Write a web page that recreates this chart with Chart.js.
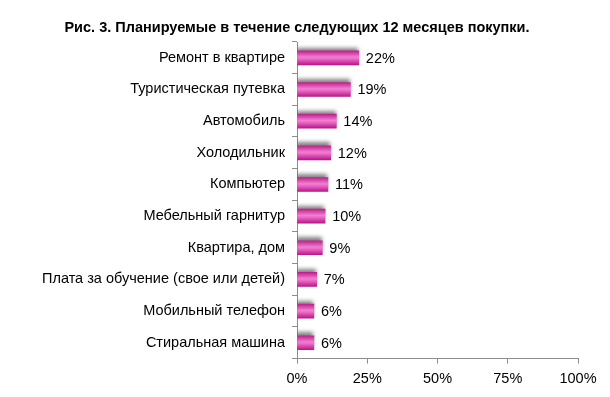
<!DOCTYPE html>
<html>
<head>
<meta charset="utf-8">
<script src="https://cdn.jsdelivr.net/npm/chart.js@4"></script>
<style>
    html, body { margin: 0; padding: 0; background: #fff; }
    #wrap { position: relative; width: 610px; height: 397px; }
    #chartTitle {
        position: absolute; left: 0; top: 19px; width: 594px;
        text-align: center; white-space: nowrap;
        font: bold 14.5px/17px "Liberation Sans", Arial, sans-serif; color: #000;
    }
</style>
</head>
<body>
<div id="wrap">
    <div id="chartTitle">Рис. 3. Планируемые в течение следующих 12 месяцев покупки.</div>
    <canvas id="purchaseChart" width="610" height="397"></canvas>
</div>
<script>
const categories = [
    'Ремонт в квартире',
    'Туристическая путевка',
    'Автомобиль',
    'Холодильник',
    'Компьютер',
    'Мебельный гарнитур',
    'Квартира, дом',
    'Плата за обучение (свое или детей)',
    'Мобильный телефон',
    'Стиральная машина'
];
const shares = [22, 19, 14, 12, 11, 10, 9, 7, 6, 6];
const xTicks = [0, 25, 50, 75, 100];

const BAR_H = 14;
const FONT = '"Liberation Sans", Arial, sans-serif';

// Pink "cylinder" gradient, built per bar from the category scale
function barGradient(context) {
    const chart = context.chart;
    const yScale = chart.scales.y;
    if (!chart.chartArea || !yScale) return '#d63aa8';
    const cy = yScale.getPixelForValue(context.dataIndex);
    if (!isFinite(cy)) return '#d63aa8';
    const top = cy - BAR_H / 2;
    const g = chart.ctx.createLinearGradient(0, top, 0, top + BAR_H);
    g.addColorStop(0, '#c0208f');
    g.addColorStop(0.45, '#f27fd0');
    g.addColorStop(0.6, '#e866c4');
    g.addColorStop(1, '#b81887');
    return g;
}

// Soft grey shadow above the bars
const barShadow = {
    id: 'barShadow',
    beforeDatasetsDraw(chart) {
        const ctx = chart.ctx;
        ctx.save();
        ctx.shadowColor = 'rgba(90, 90, 90, 0.75)';
        ctx.shadowBlur = 4;
        ctx.shadowOffsetX = -1;
        ctx.shadowOffsetY = -3;
    },
    afterDatasetsDraw(chart) {
        chart.ctx.restore();
    }
};

// Percent labels at the end of each bar
const valueLabels = {
    id: 'valueLabels',
    afterDatasetsDraw(chart) {
        const ctx = chart.ctx;
        const meta = chart.getDatasetMeta(0);
        ctx.save();
        ctx.fillStyle = '#000';
        ctx.font = '14.5px ' + FONT;
        ctx.textAlign = 'left';
        ctx.textBaseline = 'middle';
        meta.data.forEach((bar, i) => {
            ctx.fillText(shares[i] + '%', bar.x + 7, bar.y + 1);
        });
        ctx.restore();
    }
};

const ctx = document.getElementById('purchaseChart').getContext('2d');
new Chart(ctx, {
    type: 'bar',
    data: {
        labels: categories,
        datasets: [{
            data: shares,
            backgroundColor: barGradient,
            borderWidth: 0,
            barThickness: BAR_H
        }]
    },
    options: {
        indexAxis: 'y',
        responsive: false,
        animation: false,
        events: [],
        layout: {
            padding: { left: 35, right: 32, top: 42, bottom: 2 }
        },
        plugins: {
            legend: { display: false },
            tooltip: { enabled: false },
            title: { display: false }
        },
        scales: {
            x: {
                min: 0,
                max: 100,
                afterBuildTicks: (axis) => {
                    axis.ticks = xTicks.map(v => ({ value: v }));
                },
                border: { display: true, color: '#8c8c8c' },
                grid: { display: true, drawOnChartArea: false, drawTicks: true, tickLength: 5, color: '#8c8c8c' },
                ticks: {
                    color: '#000',
                    padding: 7,
                    font: { family: FONT, size: 14.5 },
                    callback: (v) => v + '%'
                }
            },
            y: {
                border: { display: true, color: '#8c8c8c' },
                grid: { display: true, offset: true, drawOnChartArea: false, drawTicks: true, tickLength: 5, color: '#8c8c8c' },
                ticks: {
                    color: '#000',
                    padding: 7,
                    font: { family: FONT, size: 14.5 }
                }
            }
        }
    },
    plugins: [barShadow, valueLabels]
});
</script>
</body>
</html>
